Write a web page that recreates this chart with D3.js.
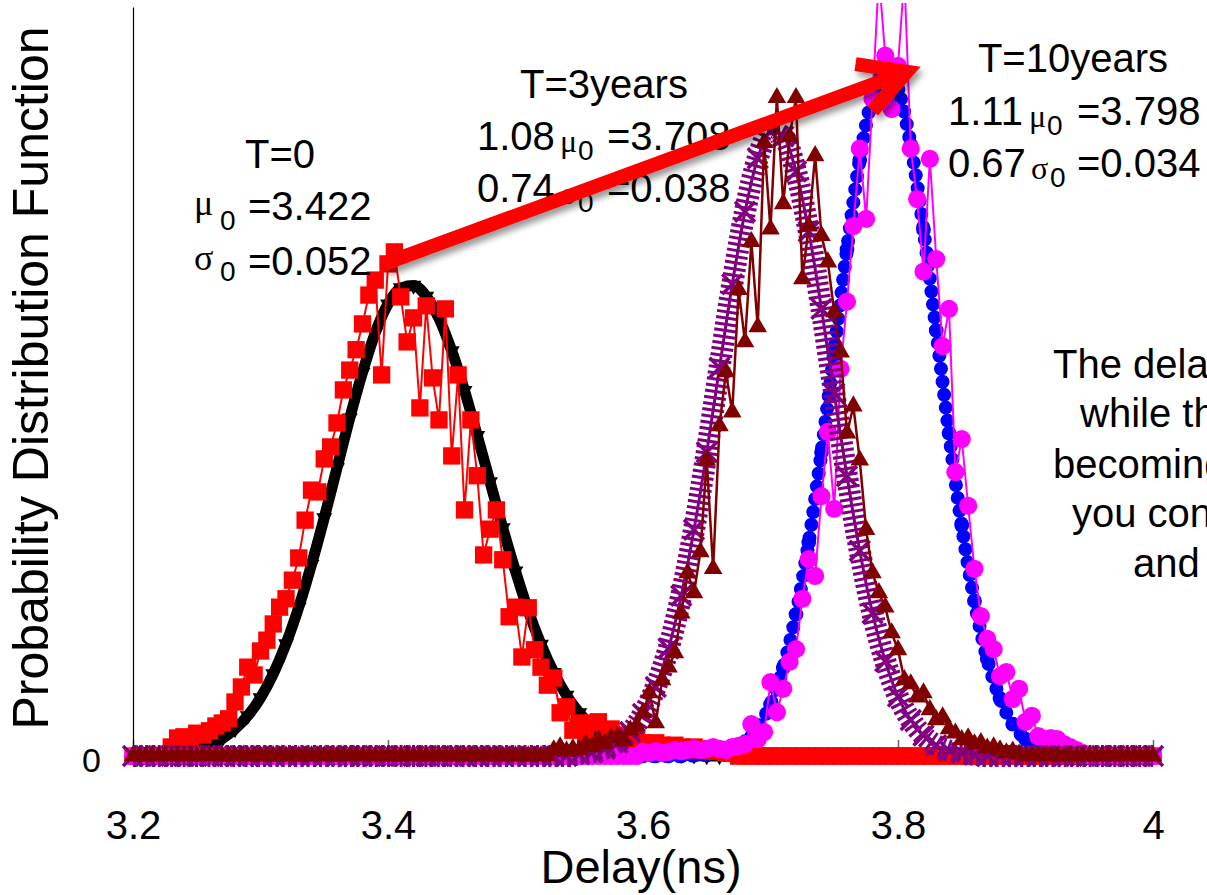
<!DOCTYPE html>
<html>
<head>
<meta charset="utf-8">
<script src="https://cdn.jsdelivr.net/npm/d3@7"></script>
<style>
  html, body { margin: 0; padding: 0; background: #fff; }
  svg { display: block; }
  text { font-family: "Liberation Sans", Arial, sans-serif; fill: #000; }
  .greek { font-family: "Liberation Serif", "Times New Roman", serif; }
</style>
</head>
<body>
<svg id="chart" width="1207" height="895"></svg>
<script>
// Delay PDFs at T=0, 3 and 10 years: measured histograms (noisy) and their
// normal fits. Values are read off the reference picture.
const X_START = 3.2
const FIT_STEP = 0.01   // fitted curves, 3.20 .. 4.00
const DATA_STEP = 0.005 // measured histograms, 3.200 .. 4.000
const xTicks = [3.2, 3.4, 3.6, 3.8, 4]
const yTicks = [0]

// T=0 fit (black)
const fitT0 = [
  0.01, 0.01, 0.02, 0.04, 0.07, 0.11, 0.18, 0.29, 0.45, 0.67,
  0.97, 1.37, 1.87, 2.48, 3.19, 3.97, 4.80, 5.63, 6.39, 7.05,
  7.53, 7.80, 7.84, 7.66, 7.29, 6.75, 6.09, 5.34, 4.57, 3.80,
  3.08, 2.42, 1.86, 1.39, 1.01, 0.72, 0.49, 0.33, 0.22, 0.14,
  0.08, 0.05, 0.03, 0.02, 0.01, 0, 0, 0, 0, 0,
  0, 0, 0, 0, 0, 0, 0, 0, 0, 0,
  0, 0, 0, 0, 0, 0, 0, 0, 0, 0,
  0, 0, 0, 0, 0, 0, 0, 0, 0, 0,
  0
]
// T=3 years fit (purple)
const fitT3 = [
  0, 0, 0, 0, 0, 0, 0, 0, 0, 0,
  0, 0, 0, 0, 0, 0, 0, 0, 0, 0,
  0, 0, 0, 0, 0, 0, 0, 0, 0, 0,
  0, 0, 0, 0, 0, 0.03, 0.06, 0.12, 0.22, 0.40,
  0.70, 1.15, 1.79, 2.67, 3.77, 5.06, 6.47, 7.86, 9.07, 9.96,
  10.40, 10.32, 9.74, 8.74, 7.45, 6.04, 4.66, 3.42, 2.38, 1.58,
  0.99, 0.60, 0.34, 0.18, 0.09, 0.05, 0.02, 0, 0, 0,
  0, 0, 0, 0, 0, 0, 0, 0, 0, 0,
  0
]
// T=10 years fit (blue)
const fitT10 = [
  0, 0, 0, 0, 0, 0, 0, 0, 0, 0,
  0, 0, 0, 0, 0, 0, 0, 0, 0, 0,
  0, 0, 0, 0, 0, 0, 0, 0, 0, 0,
  0, 0, 0, 0, 0, 0, 0, 0, 0, 0,
  0, 0, 0, 0, 0.01, 0.02, 0.05, 0.12, 0.24, 0.47,
  0.86, 1.47, 2.36, 3.56, 5.06, 6.74, 8.44, 9.93, 10.98, 11.40,
  11.11, 10.18, 8.77, 7.09, 5.38, 3.84, 2.58, 1.62, 0.96, 0.53,
  0.28, 0.14, 0.06, 0.03, 0.01, 0, 0, 0, 0, 0,
  0
]
// T=0 measured (red squares)
const dataT0 = [
  0, 0, 0, 0, 0, 0, 0.15, 0.3, 0.32, 0.25,
  0.38, 0.35, 0.42, 0.5, 0.55, 0.62, 0.9, 1.15, 1.48, 1.35,
  1.75, 1.93, 2.2, 2.48, 2.62, 2.93, 3.3, 3.93, 4.43, 4.4,
  4.95, 5.15, 5.55, 6.1, 6.43, 6.77, 7.2, 7.68, 7.93, 6.35,
  8.2, 8.4, 7.65, 6.9, 7.3, 5.8, 7.5, 6.3, 5.6, 7.45,
  5.0, 6.35, 4.1, 5.6, 4.67, 3.35, 3.78, 4.1, 3.27, 2.32,
  2.48, 1.65, 2.47, 1.77, 1.48, 1.18, 1.3, 0.72, 0.82, 0.43,
  0.55, 0.3, 0.55, 0.57, 0.38, 0.45, 0.3, 0.35, 0.25, 0.3,
  0.22, 0.2, 0.22, 0.18, 0.15, 0.18, 0.15, 0.12, 0.15, 0.1,
  0.12, 0.08, 0.1, 0.05, 0.05, 0, 0, 0, 0, 0,
  0, 0, 0, 0, 0, 0, 0, 0, 0, 0,
  0, 0, 0, 0, 0, 0, 0, 0, 0, 0,
  0, 0, 0, 0, 0, 0, 0, 0, 0, 0,
  0, 0, 0, 0, 0, 0, 0, 0, 0, 0,
  0, 0, 0, 0, 0, 0, 0, 0, 0, 0,
  0, 0, 0, 0, 0, 0, 0, 0, 0, 0,
  0
]
// T=3 years measured (dark red triangles)
const dataT3 = [
  0, 0, 0, 0, 0, 0, 0, 0, 0, 0,
  0, 0, 0, 0, 0, 0, 0, 0, 0, 0,
  0, 0, 0, 0, 0, 0, 0, 0, 0, 0,
  0, 0, 0, 0, 0, 0, 0, 0, 0, 0,
  0, 0, 0, 0, 0, 0, 0, 0, 0, 0,
  0, 0, 0, 0, 0, 0, 0, 0, 0, 0,
  0, 0, 0, 0, 0, 0, 0.1, 0.15, 0.08, 0.12,
  0.1, 0.2, 0.15, 0.27, 0.2, 0.3, 0.32, 0.25, 0.43, 0.5,
  0.72, 1.05, 0.55, 1.27, 1.48, 1.72, 2.38, 3.05, 2.72, 3.4,
  4.93, 3.12, 5.5, 6.4, 5.73, 7.77, 6.9, 8.57, 7.15, 10.22,
  8.78, 10.97, 9.2, 10.32, 10.97, 7.95, 8.83, 10.0, 8.67, 8.23,
  7.4, 6.73, 5.38, 5.83, 4.93, 3.77, 3.05, 2.72, 2.48, 2.05,
  1.77, 1.27, 1.2, 0.98, 1.05, 0.77, 0.6, 0.65, 0.45, 0.38,
  0.27, 0.3, 0.2, 0.22, 0.13, 0.15, 0.1, 0.05, 0.08, 0.03,
  0, 0, 0, 0, 0, 0, 0, 0, 0, 0,
  0, 0, 0, 0, 0, 0, 0, 0, 0, 0,
  0
]
// T=10 years measured (magenta circles)
const dataT10 = [
  0, 0, 0, 0, 0, 0, 0, 0, 0, 0,
  0, 0, 0, 0, 0, 0, 0, 0, 0, 0,
  0, 0, 0, 0, 0, 0, 0, 0, 0, 0,
  0, 0, 0, 0, 0, 0, 0, 0, 0, 0,
  0, 0, 0, 0, 0, 0, 0, 0, 0, 0,
  0, 0, 0, 0, 0, 0, 0, 0, 0, 0,
  0, 0, 0, 0, 0, 0, 0, 0, 0, 0,
  0, 0, 0, 0, 0, 0, 0, 0, 0, 0,
  0.07, 0.05, 0.08, 0.05, 0.07, 0.1, 0.08, 0.1, 0.12, 0.1,
  0.12, 0.15, 0.12, 0.1, 0.15, 0.17, 0.2, 0.53, 0.28, 0.4,
  1.23, 0.73, 1.12, 1.57, 1.78, 2.62, 3.28, 3.0, 4.33, 5.4,
  4.12, 6.45, 7.57, 8.83, 10.12, 8.95, 10.95, 13.0, 11.67, 10.78,
  11.5, 13.0, 10.12, 9.28, 8.07, 9.95, 8.28, 6.83, 7.45, 4.73,
  5.28, 4.17, 3.12, 2.33, 1.95, 1.78, 1.33, 1.4, 0.95, 1.12,
  0.57, 0.67, 0.33, 0.28, 0.3, 0.28, 0.2, 0.15, 0.1, 0.05,
  0, 0, 0, 0, 0, 0, 0, 0, 0, 0,
  0
]

const W = 1207
const H = 895
const x = d3.scaleLinear().domain([3.2, 4]).range([133, 1153])
const y = d3.scaleLinear().domain([0, 12.48]).range([756, 7])

const svg = d3.select('#chart')
const defs = svg.append('defs')
defs.append('clipPath').attr('id', 'plot')
  .append('rect').attr('x', 110).attr('y', 3).attr('width', W - 110).attr('height', 790)
defs.append('filter').attr('id', 'shadow')
  .attr('x', '-10%').attr('y', '-40%').attr('width', '120%').attr('height', '180%')
  .append('feDropShadow')
  .attr('dx', 3).attr('dy', 5).attr('stdDeviation', 3)
  .attr('flood-color', '#000').attr('flood-opacity', 0.4)

// axes
const xAxis = svg.append('g')
  .attr('transform', `translate(0,${y(0)})`)
  .call(d3.axisBottom(x).tickValues(xTicks).tickFormat(d3.format(''))
    .tickSizeInner(-16).tickSizeOuter(0).tickPadding(55))
xAxis.select('.domain').attr('stroke', '#000')
xAxis.selectAll('.tick line').attr('stroke', '#666').attr('stroke-width', 1.5)
xAxis.selectAll('text').attr('font-size', 40)

const yAxis = svg.append('g')
  .attr('transform', `translate(${x(3.2)},0)`)
  .call(d3.axisLeft(y).tickValues(yTicks).tickSize(0).tickPadding(32))
yAxis.select('.domain').attr('stroke', '#000').attr('stroke-width', 1.2)
yAxis.selectAll('text').attr('font-size', 34).attr('dy', '0.45em')

svg.append('text')
  .attr('x', 641).attr('y', 883)
  .attr('text-anchor', 'middle').attr('font-size', 47)
  .text('Delay(ns)')
svg.append('text')
  .attr('transform', 'translate(48,378) rotate(-90)')
  .attr('text-anchor', 'middle').attr('font-size', 50)
  .text('Probability Distribution Function')

// series, in drawing order: fits below their data, T=3 on top
const series = [
  { name: 'fitT0', values: fitT0, step: FIT_STEP, color: '#000000', curve: d3.curveMonotoneX,
    strokes: [{ width: 11 }],
    marker: d3.symbol(d3.symbolTriangle, 110)(), flip: true, fill: true },
  { name: 'fitT10', values: fitT10, step: FIT_STEP, color: '#0000ff', curve: d3.curveMonotoneX,
    strokes: [{ width: 4 }, { width: 14, dash: '0 13', cap: 'round' }],
    marker: d3.symbol(d3.symbolCircle, 170)(), fill: true },
  { name: 'dataT0', values: dataT0, step: DATA_STEP, color: '#ff0000',
    strokes: [{ width: 2 }],
    marker: d3.symbol(d3.symbolSquare, 300)(), fill: true },
  { name: 'dataT10', values: dataT10, step: DATA_STEP, color: '#ff00ff',
    strokes: [{ width: 2 }],
    marker: d3.symbol(d3.symbolCircle, 260)(), fill: true },
  { name: 'fitT3', values: fitT3, step: FIT_STEP, color: '#800080', curve: d3.curveMonotoneX,
    strokes: [{ width: 3 }, { width: 22, dash: '3 3.2' }],
    marker: 'M-10,-10L10,10M-10,10L10,-10', fill: false },
  { name: 'dataT3', values: dataT3, step: DATA_STEP, color: '#800000',
    strokes: [{ width: 2.5 }],
    marker: d3.symbol(d3.symbolTriangle, 150)(), fill: true }
]

const plot = svg.append('g').attr('clip-path', 'url(#plot)')

series.forEach((s) => {
  const pts = s.values.map((v, i) => ({ x: X_START + i * s.step, y: v }))
  const line = d3.line()
    .x((d) => x(d.x))
    .y((d) => y(d.y))
    .curve(s.curve || d3.curveLinear)
  const g = plot.append('g').attr('class', s.name)

  s.strokes.forEach((st) => {
    g.append('path')
      .datum(pts)
      .attr('d', line)
      .attr('fill', 'none')
      .attr('stroke', s.color)
      .attr('stroke-width', st.width)
      .attr('stroke-dasharray', st.dash || null)
      .attr('stroke-linecap', st.cap || 'butt')
      .attr('stroke-linejoin', 'round')
  })

  g.selectAll('path.mk')
    .data(pts)
    .join('path')
    .attr('class', 'mk')
    .attr('d', s.marker)
    .attr('transform', (d) => `translate(${x(d.x)},${y(d.y)})${s.flip ? ' rotate(180)' : ''}`)
    .attr('fill', s.fill ? s.color : 'none')
    .attr('stroke', s.fill ? 'none' : s.color)
    .attr('stroke-width', s.fill ? null : 3.5)
})

// annotations
const notes = svg.append('g')
function put(px, py, str, size, opts = {}) {
  notes.append('text')
    .attr('x', px).attr('y', py)
    .attr('font-size', size)
    .attr('text-anchor', opts.anchor || 'start')
    .attr('class', opts.greek ? 'greek' : null)
    .text(str)
}

put(280, 168, 'T=0', 40, { anchor: 'middle' })
put(194, 215, 'μ', 36, { greek: true })
put(220, 230, '0', 28)
put(248, 220, '=3.422', 40)
put(194, 270, 'σ', 36, { greek: true })
put(220, 281, '0', 28)
put(248, 275, '=0.052', 40)

put(604, 98, 'T=3years', 40, { anchor: 'middle' })
put(477, 150, '1.08', 40)
put(560, 152, 'μ', 32, { greek: true })
put(578, 160, '0', 28)
put(607, 150, '=3.708', 40)
put(477, 202, '0.74', 40)
put(560, 204, 'σ', 32, { greek: true })
put(578, 212, '0', 28)
put(607, 202, '=0.038', 40)

put(1073, 72, 'T=10years', 40, { anchor: 'middle' })
put(948, 125, '1.11', 40)
put(1029, 127, 'μ', 32, { greek: true })
put(1047, 135, '0', 28)
put(1077, 125, '=3.798', 40)
put(948, 177, '0.67', 40)
put(1031, 179, 'σ', 32, { greek: true })
put(1050, 187, '0', 28)
put(1077, 177, '=0.034', 40)

put(1053, 378, 'The delay increases', 40)
put(1080, 427, 'while the spread is', 40)
put(1053, 478, 'becoming narrower', 40)
put(1072, 527, 'you consider aging', 40)
put(1133, 577, 'and variation', 40)

// red arrow from the T=0 peak to the T=10 peak
const tail = [x(3.397), y(8.2)]
const tip = [x(3.807), y(11.4)]
const ang = Math.atan2(tip[1] - tail[1], tip[0] - tail[0])
const headLen = 52
const wing = (da) => [tip[0] + headLen * Math.cos(ang + Math.PI + da), tip[1] + headLen * Math.sin(ang + Math.PI + da)]
const w1 = wing(0.5)
const w2 = wing(-0.5)
svg.append('path')
  .attr('d', `M${tail}L${tip}M${w1}L${tip}L${w2}`)
  .attr('fill', 'none')
  .attr('stroke', '#ff0000')
  .attr('stroke-width', 14)
  .attr('stroke-linejoin', 'miter')
  .attr('stroke-miterlimit', 6)
  .attr('filter', 'url(#shadow)')
</script>
</body>
</html>
